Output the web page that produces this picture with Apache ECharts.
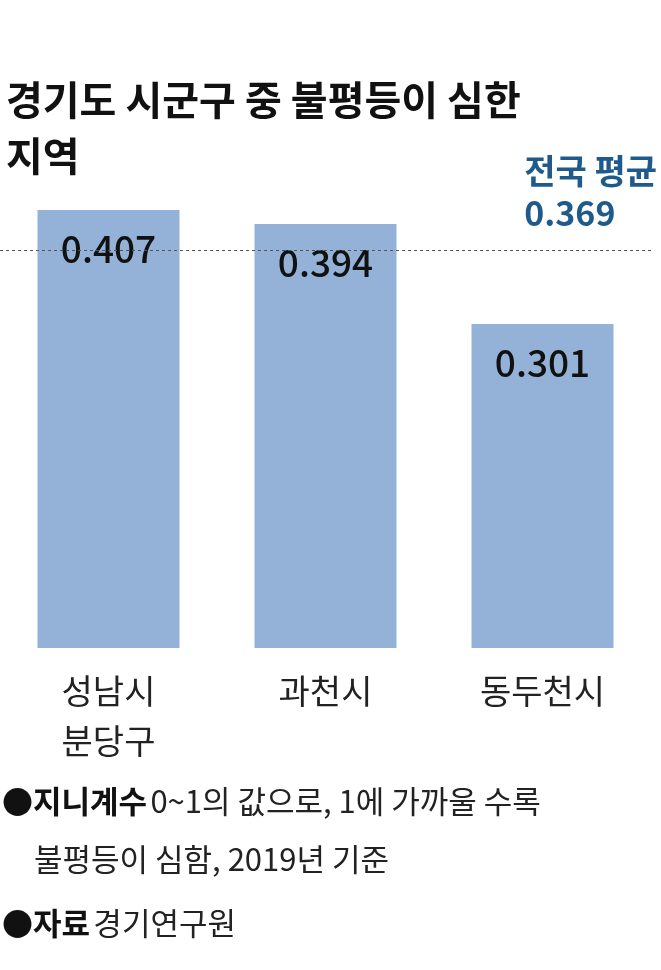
<!DOCTYPE html><html><head><meta charset="utf-8"><script src="https://cdn.jsdelivr.net/npm/echarts@6/dist/echarts.min.js"></script>
<style>html,body{margin:0;background:#fff}#c{width:661px;height:970px}</style></head><body><div id="c"></div><script>
const categories=['성남시\n분당구','과천시','동두천시'];
const values=[0.407,0.394,0.301];
const avgValue=0.369;
const F='"Noto Sans CJK KR", sans-serif';
const c=echarts.init(document.getElementById('c'));
c.setOption({
 animation:false,
 grid:{left:0,width:651,top:110,height:538},
 xAxis:{type:'category',data:categories,axisLine:{show:false},axisTick:{show:false},
  axisLabel:{color:'#222',fontSize:34,fontFamily:F,margin:18,lineHeight:50,verticalAlign:'top'}},
 yAxis:{type:'value',min:0,max:0.5,show:false,splitLine:{show:false}},
 series:[{type:'bar',data:values,barWidth:142,itemStyle:{color:'#94b2d8'},
  label:{show:true,position:'insideTop',distance:20,color:'#111',fontSize:37,fontFamily:F,fontWeight:500,formatter:p=>p.value.toFixed(3)},
  markLine:{symbol:'none',silent:true,data:[{yAxis:avgValue}],lineStyle:{type:[3,3],color:'#555',width:1},label:{show:false}}}],
 graphic:[
  {type:'text',left:6,top:72,style:{text:'경기도 시군구 중 불평등이 심한\n지역',font:'bold 40px '+F,lineHeight:56,fill:'#111'}},
  {type:'text',right:4,top:150,style:{text:'전국 평균\n'+avgValue.toFixed(3),font:'bold 34px '+F,lineHeight:42,fill:'#1f5a8c',align:'right'}},
  {type:'text',left:2,top:786,style:{rich:{b:{font:'bold 31px '+F,fill:'#111'},n:{font:'31px '+F,fill:'#222'}},text:'{b|●지니계수} {n|0~1의 값으로, 1에 가까울 수록}'}},
  {type:'text',left:34,top:844,style:{text:'불평등이 심함, 2019년 기준',font:'31px '+F,fill:'#222'}},
  {type:'text',left:2,top:908,style:{rich:{b:{font:'bold 31px '+F,fill:'#111'},n:{font:'31px '+F,fill:'#222'}},text:'{b|●자료} {n|경기연구원}'}}
 ]
});
</script></body></html>
